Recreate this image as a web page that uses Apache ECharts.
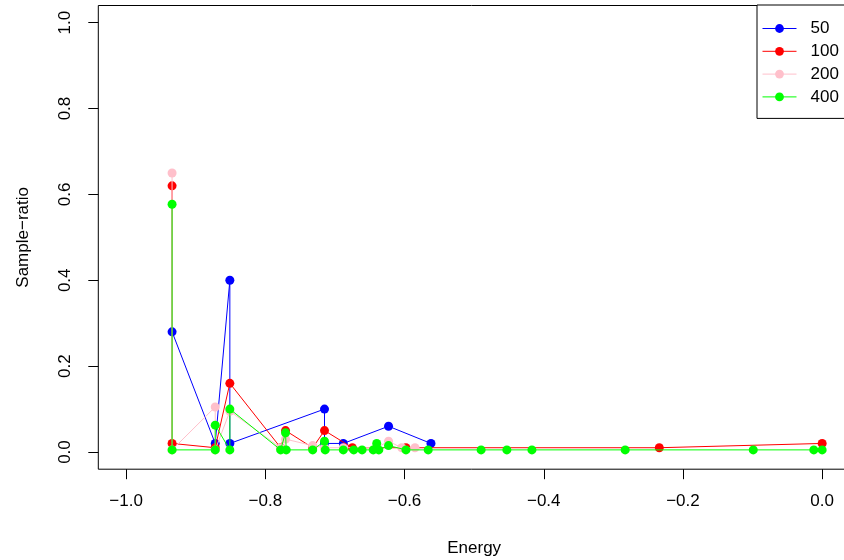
<!DOCTYPE html>
<html>
<head>
<meta charset="utf-8">
<script src="https://cdn.jsdelivr.net/npm/echarts@6/dist/echarts.min.js"></script>
<style>html,body{margin:0;padding:0;background:#fff}#c{width:844px;height:560px}</style>
</head>
<body>
<div id="c"></div>
<script>
// Series names
var seriesNames = ['50', '100', '200', '400'];
var seriesColors = ['#0000FF', '#FF0000', '#FFC0CB', '#00FF00'];

// Series 50
var energy50 = [-0.934, -0.872, -0.851, -0.851, -0.715, -0.715, -0.688, -0.623, -0.562];
var ratio50  = [0.28, 0.02, 0.40, 0.02, 0.10, 0.02, 0.02, 0.06, 0.02];

// Series 100
var energy100 = [-0.934, -0.934, -0.872, -0.851, -0.778, -0.771, -0.732, -0.715, -0.675, -0.640, -0.598, -0.234, 0.0];
var ratio100  = [0.62, 0.02, 0.01, 0.16, 0.01, 0.05, 0.01, 0.05, 0.01, 0.01, 0.01, 0.01, 0.02];

// Series 200
var energy200 = [-0.934, -0.934, -0.872, -0.872, -0.851, -0.778, -0.771, -0.732, -0.715, -0.688, -0.640, -0.623, -0.604, -0.585];
var ratio200  = [0.65, 0.005, 0.105, 0.005, 0.095, 0.01, 0.03, 0.015, 0.01, 0.01, 0.01, 0.025, 0.01, 0.01];

// Series 400
var energy400 = [-0.934, -0.934, -0.872, -0.872, -0.851, -0.851, -0.778, -0.771, -0.770, -0.732, -0.715, -0.714, -0.688, -0.673, -0.661, -0.645, -0.640, -0.637, -0.623, -0.598, -0.566, -0.490, -0.453, -0.417, -0.283, -0.099, -0.012, 0.0];
var ratio400  = [0.577, 0.005, 0.005, 0.0625, 0.005, 0.10, 0.005, 0.045, 0.005, 0.005, 0.025, 0.005, 0.005, 0.005, 0.005, 0.005, 0.02, 0.005, 0.015, 0.005, 0.005, 0.005, 0.005, 0.005, 0.005, 0.005, 0.005, 0.005];

// Tick labels
var xTicks = [-1.0, -0.8, -0.6, -0.4, -0.2, 0.0];
var yTicks = [0.0, 0.2, 0.4, 0.6, 0.8, 1.0];

var xTitle = 'Energy';
var yTitle = 'Sample\u2212ratio';

var allEnergy = [energy50, energy100, energy200, energy400];
var allRatio = [ratio50, ratio100, ratio200, ratio400];

function pairs(xs, ys) {
  var out = [];
  for (var i = 0; i < xs.length; i++) out.push([xs[i], ys[i]]);
  return out;
}
function fmt(v) {
  return v.toFixed(1).replace('-', '\u2212');
}

var FONT = '"Liberation Sans", Arial, Helvetica, sans-serif';

var series = seriesNames.map(function (name, i) {
  return {
    name: name,
    type: 'line',
    data: pairs(allEnergy[i], allRatio[i]),
    symbol: 'circle',
    symbolSize: 9,
    showAllSymbol: true,
    z: 2 + i,
    lineStyle: { color: seriesColors[i], width: 1 },
    itemStyle: { color: seriesColors[i], borderWidth: 0 },
    emphasis: { disabled: true }
  };
});

var chart = echarts.init(document.getElementById('c'), null, { renderer: 'canvas' });
chart.setOption({
  animation: false,
  backgroundColor: '#ffffff',
  textStyle: { fontFamily: FONT },
  grid: {
    left: 98.3, top: 5.5, width: 751.7, height: 463.7,
    outerBoundsMode: 'none',
    show: true, borderColor: '#000', borderWidth: 1, backgroundColor: 'transparent',
    containLabel: false
  },
  legend: {
    data: seriesNames,
    orient: 'vertical',
    left: 757, top: 5,
    padding: [15, 8, 13, 5],
    itemGap: 5.8,
    itemWidth: 34,
    itemHeight: 11,
    lineStyle: { width: 1 },
    backgroundColor: '#fff',
    borderColor: '#000',
    borderWidth: 1,
    borderRadius: 0,
    textStyle: { fontSize: 17, color: '#000', fontFamily: FONT, padding: [0, 0, 0, 9] }
  },
  xAxis: {
    type: 'value',
    min: -1.04, max: 0.04,
    name: xTitle,
    nameLocation: 'middle',
    nameGap: 71,
    nameTextStyle: { fontSize: 17, color: '#000', fontFamily: FONT },
    axisLine: { show: false, onZero: false },
    splitLine: { show: false },
    axisTick: { show: true, inside: false, length: 10, customValues: xTicks, lineStyle: { color: '#000', width: 1 } },
    axisLabel: { customValues: xTicks, formatter: fmt, margin: 24, fontSize: 17, color: '#000', fontFamily: FONT }
  },
  yAxis: {
    type: 'value',
    min: -0.04, max: 1.04,
    name: yTitle,
    nameLocation: 'middle',
    nameGap: 66,
    nameRotate: 90,
    nameTextStyle: { fontSize: 17, color: '#000', fontFamily: FONT },
    axisLine: { show: false, onZero: false },
    splitLine: { show: false },
    axisTick: { show: true, inside: false, length: 10, customValues: yTicks, lineStyle: { color: '#000', width: 1 } },
    axisLabel: { customValues: yTicks, formatter: fmt, rotate: 90, margin: 24, fontSize: 17, color: '#000', fontFamily: FONT }
  },
  series: series
});
</script>
</body>
</html>
